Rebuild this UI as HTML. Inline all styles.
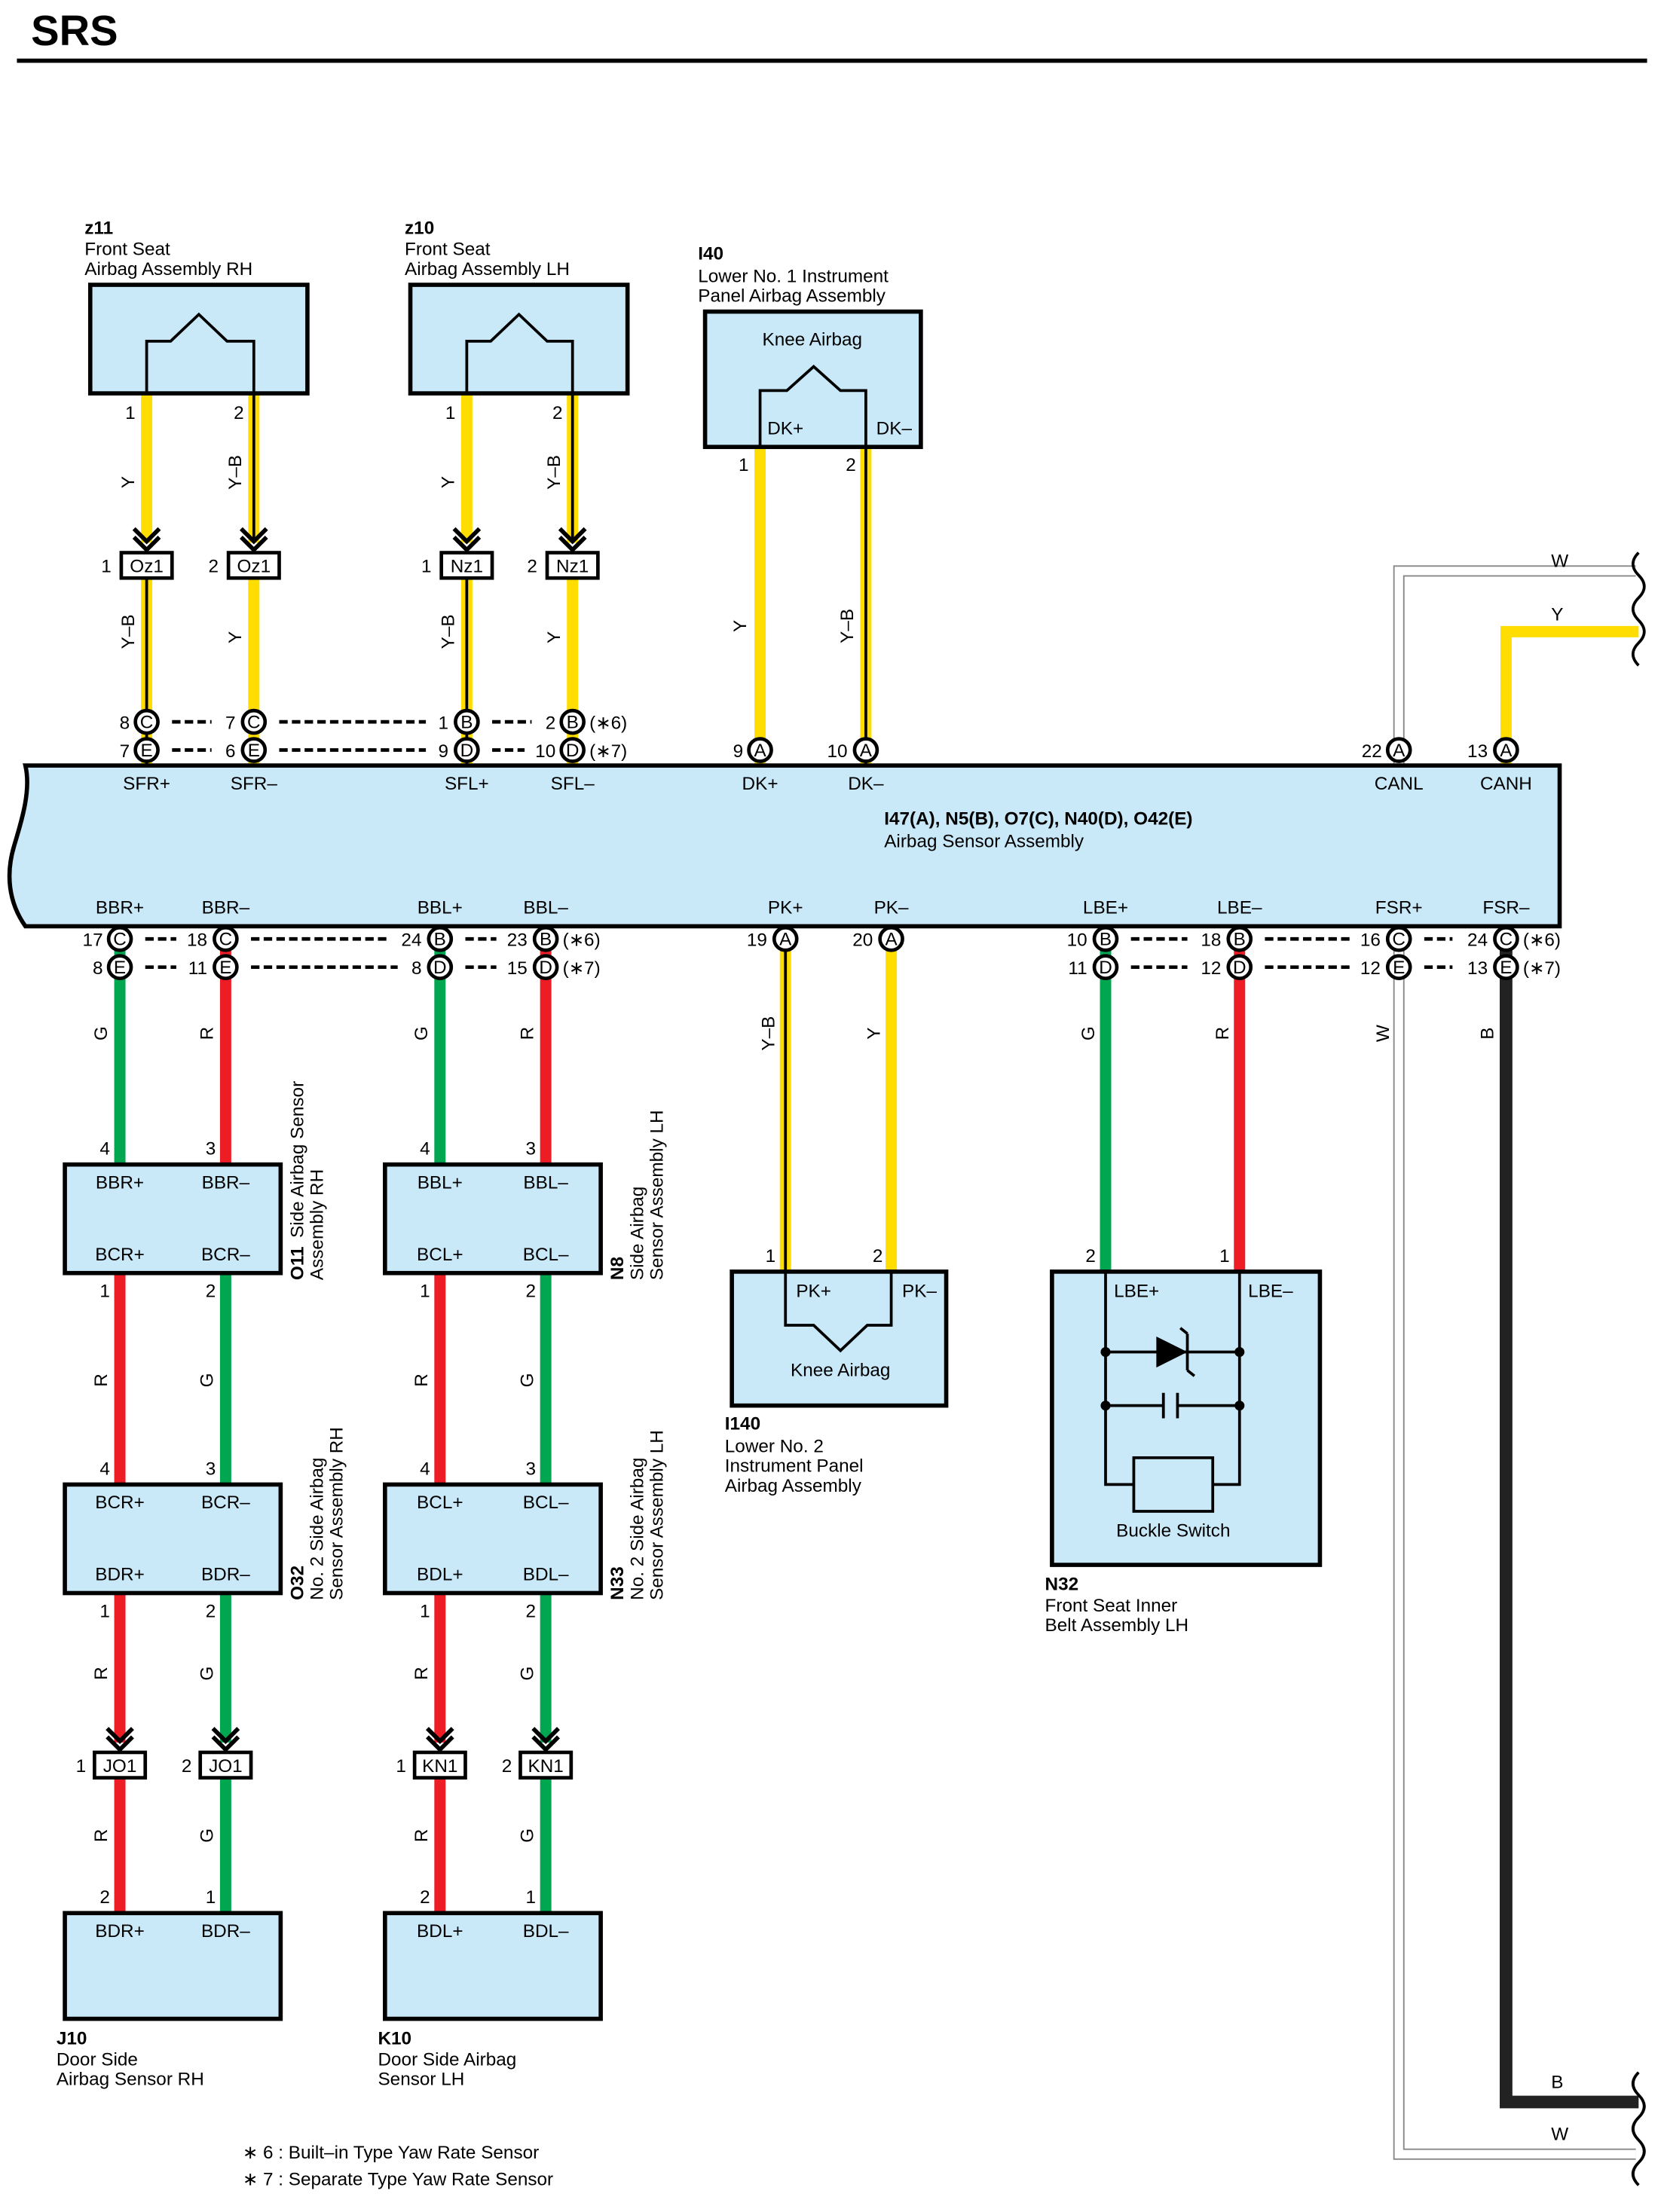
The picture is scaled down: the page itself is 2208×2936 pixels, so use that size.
<!DOCTYPE html>
<html><head><meta charset="utf-8"><style>
html,body{margin:0;padding:0;background:#fff}
svg{display:block}
text{font-family:"Liberation Sans",sans-serif;font-size:13px;fill:#000}
.b{font-weight:bold}
.m{text-anchor:middle}
.e{text-anchor:end}
</style></head><body>
<svg width="2208" height="2936" viewBox="0 0 1180 1569" xmlns="http://www.w3.org/2000/svg">
<defs>
<path id="chev" d="M-9,-13 L0,-4 L9,-13 M-9,-7 L0,2 L9,-7" stroke="#000" stroke-width="3" fill="none"/>
</defs>
<text x="22" y="32" class="b" style="font-size:30px">SRS</text>
<line x1="12" y1="43" x2="1168" y2="43" stroke="#000" stroke-width="3"/>

<!-- ===== top wires ===== -->
<g stroke-linecap="butt">
<!-- z11 -->
<line x1="104" y1="279" x2="104" y2="385" stroke="#ffdd00" stroke-width="8"/>
<line x1="180" y1="279" x2="180" y2="385" stroke="#ffdd00" stroke-width="8"/><line x1="180" y1="279" x2="180" y2="385" stroke="#000" stroke-width="2"/>
<line x1="104" y1="410" x2="104" y2="543" stroke="#ffdd00" stroke-width="8"/><line x1="104" y1="410" x2="104" y2="543" stroke="#000" stroke-width="2"/>
<line x1="180" y1="410" x2="180" y2="543" stroke="#ffdd00" stroke-width="8"/>
<!-- z10 -->
<line x1="331" y1="279" x2="331" y2="385" stroke="#ffdd00" stroke-width="8"/>
<line x1="406" y1="279" x2="406" y2="385" stroke="#ffdd00" stroke-width="8"/><line x1="406" y1="279" x2="406" y2="385" stroke="#000" stroke-width="2"/>
<line x1="331" y1="410" x2="331" y2="543" stroke="#ffdd00" stroke-width="8"/><line x1="331" y1="410" x2="331" y2="543" stroke="#000" stroke-width="2"/>
<line x1="406" y1="410" x2="406" y2="543" stroke="#ffdd00" stroke-width="8"/>
<!-- I40 -->
<line x1="539" y1="317" x2="539" y2="543" stroke="#ffdd00" stroke-width="8"/>
<line x1="614" y1="317" x2="614" y2="543" stroke="#ffdd00" stroke-width="8"/><line x1="614" y1="317" x2="614" y2="543" stroke="#000" stroke-width="2"/>
<!-- right W and Y -->
<path d="M992,543 L992,405 L1160,405" stroke="#888" stroke-width="8" fill="none"/>
<path d="M992,543 L992,405 L1160,405" stroke="#fff" stroke-width="6" fill="none"/>
<path d="M1068,543 L1068,448 L1162,448" stroke="#ffdd00" stroke-width="8" fill="none"/>
<!-- bottom right W and B -->
<path d="M992,657 L992,1528 L1160,1528" stroke="#888" stroke-width="8" fill="none"/>
<path d="M992,657 L992,1528 L1160,1528" stroke="#fff" stroke-width="6" fill="none"/>
<path d="M1068,657 L1068,1491 L1162,1491" stroke="#222" stroke-width="9" fill="none"/>
<!-- bottom wires -->
<line x1="85" y1="657" x2="85" y2="826" stroke="#00a650" stroke-width="8"/>
<line x1="160" y1="657" x2="160" y2="826" stroke="#ee1c25" stroke-width="8"/>
<line x1="312" y1="657" x2="312" y2="826" stroke="#00a650" stroke-width="8"/>
<line x1="387" y1="657" x2="387" y2="826" stroke="#ee1c25" stroke-width="8"/>
<line x1="557" y1="657" x2="557" y2="902" stroke="#ffdd00" stroke-width="8"/><line x1="557" y1="657" x2="557" y2="902" stroke="#000" stroke-width="2"/>
<line x1="632" y1="657" x2="632" y2="902" stroke="#ffdd00" stroke-width="8"/>
<line x1="784" y1="657" x2="784" y2="902" stroke="#00a650" stroke-width="8"/>
<line x1="879" y1="657" x2="879" y2="902" stroke="#ee1c25" stroke-width="8"/>
<line x1="85" y1="903" x2="85" y2="1053" stroke="#ee1c25" stroke-width="8"/>
<line x1="160" y1="903" x2="160" y2="1053" stroke="#00a650" stroke-width="8"/>
<line x1="312" y1="903" x2="312" y2="1053" stroke="#ee1c25" stroke-width="8"/>
<line x1="387" y1="903" x2="387" y2="1053" stroke="#00a650" stroke-width="8"/>
<line x1="85" y1="1130" x2="85" y2="1236" stroke="#ee1c25" stroke-width="8"/>
<line x1="160" y1="1130" x2="160" y2="1236" stroke="#00a650" stroke-width="8"/>
<line x1="312" y1="1130" x2="312" y2="1236" stroke="#ee1c25" stroke-width="8"/>
<line x1="387" y1="1130" x2="387" y2="1236" stroke="#00a650" stroke-width="8"/>
<line x1="85" y1="1262" x2="85" y2="1357" stroke="#ee1c25" stroke-width="8"/>
<line x1="160" y1="1262" x2="160" y2="1357" stroke="#00a650" stroke-width="8"/>
<line x1="312" y1="1262" x2="312" y2="1357" stroke="#ee1c25" stroke-width="8"/>
<line x1="387" y1="1262" x2="387" y2="1357" stroke="#00a650" stroke-width="8"/>
</g>

<!-- break marks -->
<g stroke="#000" stroke-width="2" fill="none">
<path d="M1162,392 q-8,8 0,16 q8,8 0,16 q-8,8 0,16 q8,8 0,16 q-8,8 0,16 M1164,392 v0"/>
<path d="M1162,1470 q-8,8 0,16 q8,8 0,16 q-8,8 0,16 q8,8 0,16 q-8,8 0,16"/>
</g>
<text x="1100" y="402">W</text><text x="1100" y="440">Y</text>
<text x="1100" y="1481">B</text><text x="1100" y="1518">W</text>

<!-- chevrons -->
<use href="#chev" x="104" y="388"/><use href="#chev" x="180" y="388"/>
<use href="#chev" x="331" y="388"/><use href="#chev" x="406" y="388"/>
<use href="#chev" x="85" y="1239"/><use href="#chev" x="160" y="1239"/>
<use href="#chev" x="312" y="1239"/><use href="#chev" x="387" y="1239"/>

<!-- top boxes -->
<g fill="#c9e8f8" stroke="#000" stroke-width="3">
<rect x="64" y="202" width="154" height="77"/>
<rect x="291" y="202" width="154" height="77"/>
<rect x="500" y="221" width="153" height="96"/>
<rect x="519" y="902" width="152" height="95"/>
<rect x="746" y="902" width="190" height="208"/>
<rect x="46" y="826" width="153" height="77"/>
<rect x="273" y="826" width="153" height="77"/>
<rect x="46" y="1053" width="153" height="77"/>
<rect x="273" y="1053" width="153" height="77"/>
<rect x="46" y="1357" width="153" height="75"/>
<rect x="273" y="1357" width="153" height="75"/>
<path d="M18,543 L1106,543 L1106,657 L18,657 C6,640 4,620 10,600 C16,580 22,560 18,543 Z"/>
</g>
<g stroke="#000" stroke-width="2" fill="none">
<path d="M104,279 V242 H121 L141,223 L161,242 H180 V279"/>
<path d="M331,279 V242 H348 L368,223 L388,242 H406 V279"/>
<path d="M539,317 V277 H558 L577,260 L596,277 H614 V317"/>
<path d="M557,902 V940 H577 L596,958 L615,940 H632 V902"/>
<!-- N32 circuit -->
<path d="M784,902 V1053 H804 M879,902 V1053 H860"/>
<rect x="804" y="1034" width="56" height="38"/>
<path d="M784,959 H879 M784,997 H825 M835,997 H879 M825,988 V1006 M835,988 V1006"/>
</g>
<path d="M820,948 L842,959 L820,970 Z" fill="#000"/>
<path d="M842,946 V972 M842,946 l-5,-4 M842,972 l5,4" stroke="#000" stroke-width="2" fill="none"/>
<g fill="#000"><circle cx="784" cy="959" r="3.5"/><circle cx="879" cy="959" r="3.5"/><circle cx="784" cy="997" r="3.5"/><circle cx="879" cy="997" r="3.5"/></g>

<!-- small connectors -->
<g fill="#fff" stroke="#000" stroke-width="2.5">
<rect x="86" y="392" width="36" height="18"/><rect x="162" y="392" width="36" height="18"/>
<rect x="313" y="392" width="36" height="18"/><rect x="388" y="392" width="36" height="18"/>
<rect x="67" y="1243" width="36" height="18"/><rect x="142" y="1243" width="36" height="18"/>
<rect x="294" y="1243" width="36" height="18"/><rect x="369" y="1243" width="36" height="18"/>
</g>
<g class="m">
<text x="104" y="406" class="m">Oz1</text><text x="180" y="406" class="m">Oz1</text>
<text x="331" y="406" class="m">Nz1</text><text x="406" y="406" class="m">Nz1</text>
<text x="85" y="1257" class="m">JO1</text><text x="160" y="1257" class="m">JO1</text>
<text x="312" y="1257" class="m">KN1</text><text x="387" y="1257" class="m">KN1</text>
</g>
<text x="79" y="406" class="e">1</text><text x="155" y="406" class="e">2</text>
<text x="306" y="406" class="e">1</text><text x="381" y="406" class="e">2</text>
<text x="61" y="1257" class="e">1</text><text x="136" y="1257" class="e">2</text>
<text x="288" y="1257" class="e">1</text><text x="363" y="1257" class="e">2</text>

<!-- dashes -->
<g stroke="#000" stroke-width="2.5" stroke-dasharray="6,3">
<line x1="122" y1="512" x2="150" y2="512"/><line x1="122" y1="532" x2="150" y2="532"/>
<line x1="198" y1="512" x2="302" y2="512"/><line x1="198" y1="532" x2="302" y2="532"/>
<line x1="349" y1="512" x2="377" y2="512"/><line x1="349" y1="532" x2="372" y2="532"/>
<line x1="103" y1="666" x2="125" y2="666"/><line x1="103" y1="686" x2="125" y2="686"/>
<line x1="178" y1="666" x2="277" y2="666"/><line x1="178" y1="686" x2="282" y2="686"/>
<line x1="330" y1="666" x2="352" y2="666"/><line x1="330" y1="686" x2="352" y2="686"/>
<line x1="802" y1="666" x2="842" y2="666"/><line x1="802" y1="686" x2="842" y2="686"/>
<line x1="897" y1="666" x2="957" y2="666"/><line x1="897" y1="686" x2="957" y2="686"/>
<line x1="1010" y1="666" x2="1030" y2="666"/><line x1="1010" y1="686" x2="1030" y2="686"/>
</g>

<!-- circles -->
<g fill="#fff" stroke="#000" stroke-width="2.5">
<circle cx="104" cy="512" r="8"/><circle cx="104" cy="532" r="8"/>
<circle cx="180" cy="512" r="8"/><circle cx="180" cy="532" r="8"/>
<circle cx="331" cy="512" r="8"/><circle cx="331" cy="532" r="8"/>
<circle cx="406" cy="512" r="8"/><circle cx="406" cy="532" r="8"/>
<circle cx="539" cy="532" r="8"/><circle cx="614" cy="532" r="8"/>
<circle cx="992" cy="532" r="8"/><circle cx="1068" cy="532" r="8"/>
<circle cx="85" cy="666" r="8"/><circle cx="85" cy="686" r="8"/>
<circle cx="160" cy="666" r="8"/><circle cx="160" cy="686" r="8"/>
<circle cx="312" cy="666" r="8"/><circle cx="312" cy="686" r="8"/>
<circle cx="387" cy="666" r="8"/><circle cx="387" cy="686" r="8"/>
<circle cx="557" cy="666" r="8"/><circle cx="632" cy="666" r="8"/>
<circle cx="784" cy="666" r="8"/><circle cx="784" cy="686" r="8"/>
<circle cx="879" cy="666" r="8"/><circle cx="879" cy="686" r="8"/>
<circle cx="992" cy="666" r="8"/><circle cx="992" cy="686" r="8"/>
<circle cx="1068" cy="666" r="8"/><circle cx="1068" cy="686" r="8"/>
</g>
<g style="font-size:12px">
<text x="104" y="516.5" class="m">C</text><text x="104" y="536.5" class="m">E</text>
<text x="180" y="516.5" class="m">C</text><text x="180" y="536.5" class="m">E</text>
<text x="331" y="516.5" class="m">B</text><text x="331" y="536.5" class="m">D</text>
<text x="406" y="516.5" class="m">B</text><text x="406" y="536.5" class="m">D</text>
<text x="539" y="536.5" class="m">A</text><text x="614" y="536.5" class="m">A</text>
<text x="992" y="536.5" class="m">A</text><text x="1068" y="536.5" class="m">A</text>
<text x="85" y="670.5" class="m">C</text><text x="85" y="690.5" class="m">E</text>
<text x="160" y="670.5" class="m">C</text><text x="160" y="690.5" class="m">E</text>
<text x="312" y="670.5" class="m">B</text><text x="312" y="690.5" class="m">D</text>
<text x="387" y="670.5" class="m">B</text><text x="387" y="690.5" class="m">D</text>
<text x="557" y="670.5" class="m">A</text><text x="632" y="670.5" class="m">A</text>
<text x="784" y="670.5" class="m">B</text><text x="784" y="690.5" class="m">D</text>
<text x="879" y="670.5" class="m">B</text><text x="879" y="690.5" class="m">D</text>
<text x="992" y="670.5" class="m">C</text><text x="992" y="690.5" class="m">E</text>
<text x="1068" y="670.5" class="m">C</text><text x="1068" y="690.5" class="m">E</text>
</g>
<!-- pin numbers at circles -->
<g class="e">
<text x="92" y="517" class="e">8</text><text x="92" y="537" class="e">7</text>
<text x="167" y="517" class="e">7</text><text x="167" y="537" class="e">6</text>
<text x="318" y="517" class="e">1</text><text x="318" y="537" class="e">9</text>
<text x="394" y="517" class="e">2</text><text x="394" y="537" class="e">10</text>
<text x="527" y="537" class="e">9</text><text x="601" y="537" class="e">10</text>
<text x="980" y="537" class="e">22</text><text x="1055" y="537" class="e">13</text>
<text x="73" y="671" class="e">17</text><text x="73" y="691" class="e">8</text>
<text x="147" y="671" class="e">18</text><text x="147" y="691" class="e">11</text>
<text x="299" y="671" class="e">24</text><text x="299" y="691" class="e">8</text>
<text x="374" y="671" class="e">23</text><text x="374" y="691" class="e">15</text>
<text x="544" y="671" class="e">19</text><text x="619" y="671" class="e">20</text>
<text x="771" y="671" class="e">10</text><text x="771" y="691" class="e">11</text>
<text x="866" y="671" class="e">18</text><text x="866" y="691" class="e">12</text>
<text x="979" y="671" class="e">16</text><text x="979" y="691" class="e">12</text>
<text x="1055" y="671" class="e">24</text><text x="1055" y="691" class="e">13</text>
</g>
<text x="418" y="517">(∗6)</text><text x="418" y="537">(∗7)</text>
<text x="399" y="671">(∗6)</text><text x="399" y="691">(∗7)</text>
<text x="1080" y="671">(∗6)</text><text x="1080" y="691">(∗7)</text>

<!-- pin numbers at components -->
<text x="96" y="297" class="e">1</text><text x="173" y="297" class="e">2</text>
<text x="323" y="297" class="e">1</text><text x="399" y="297" class="e">2</text>
<text x="531" y="334" class="e">1</text><text x="607" y="334" class="e">2</text>
<text x="78" y="819" class="e">4</text><text x="153" y="819" class="e">3</text>
<text x="305" y="819" class="e">4</text><text x="380" y="819" class="e">3</text>
<text x="78" y="920" class="e">1</text><text x="153" y="920" class="e">2</text>
<text x="305" y="920" class="e">1</text><text x="380" y="920" class="e">2</text>
<text x="78" y="1046" class="e">4</text><text x="153" y="1046" class="e">3</text>
<text x="305" y="1046" class="e">4</text><text x="380" y="1046" class="e">3</text>
<text x="78" y="1147" class="e">1</text><text x="153" y="1147" class="e">2</text>
<text x="305" y="1147" class="e">1</text><text x="380" y="1147" class="e">2</text>
<text x="78" y="1350" class="e">2</text><text x="153" y="1350" class="e">1</text>
<text x="305" y="1350" class="e">2</text><text x="380" y="1350" class="e">1</text>
<text x="550" y="895" class="e">1</text><text x="626" y="895" class="e">2</text>
<text x="777" y="895" class="e">2</text><text x="872" y="895" class="e">1</text>

<!-- wire color labels (rotated) -->
<g>
<text transform="translate(95,342) rotate(-90)" class="m">Y</text>
<text transform="translate(171,335) rotate(-90)" class="m">Y–B</text>
<text transform="translate(322,342) rotate(-90)" class="m">Y</text>
<text transform="translate(397,335) rotate(-90)" class="m">Y–B</text>
<text transform="translate(95,448) rotate(-90)" class="m">Y–B</text>
<text transform="translate(171,452) rotate(-90)" class="m">Y</text>
<text transform="translate(322,448) rotate(-90)" class="m">Y–B</text>
<text transform="translate(397,452) rotate(-90)" class="m">Y</text>
<text transform="translate(529,444) rotate(-90)" class="m">Y</text>
<text transform="translate(605,444) rotate(-90)" class="m">Y–B</text>
<text transform="translate(76,733) rotate(-90)" class="m">G</text>
<text transform="translate(151,733) rotate(-90)" class="m">R</text>
<text transform="translate(303,733) rotate(-90)" class="m">G</text>
<text transform="translate(378,733) rotate(-90)" class="m">R</text>
<text transform="translate(549,733) rotate(-90)" class="m">Y–B</text>
<text transform="translate(624,733) rotate(-90)" class="m">Y</text>
<text transform="translate(776,733) rotate(-90)" class="m">G</text>
<text transform="translate(871,733) rotate(-90)" class="m">R</text>
<text transform="translate(985,733) rotate(-90)" class="m">W</text>
<text transform="translate(1059,733) rotate(-90)" class="m">B</text>
<text transform="translate(76,979) rotate(-90)" class="m">R</text>
<text transform="translate(151,979) rotate(-90)" class="m">G</text>
<text transform="translate(303,979) rotate(-90)" class="m">R</text>
<text transform="translate(378,979) rotate(-90)" class="m">G</text>
<text transform="translate(76,1187) rotate(-90)" class="m">R</text>
<text transform="translate(151,1187) rotate(-90)" class="m">G</text>
<text transform="translate(303,1187) rotate(-90)" class="m">R</text>
<text transform="translate(378,1187) rotate(-90)" class="m">G</text>
<text transform="translate(76,1302) rotate(-90)" class="m">R</text>
<text transform="translate(151,1302) rotate(-90)" class="m">G</text>
<text transform="translate(303,1302) rotate(-90)" class="m">R</text>
<text transform="translate(378,1302) rotate(-90)" class="m">G</text>
</g>

<!-- main box labels -->
<g class="m">
<text x="104" y="560" class="m">SFR+</text><text x="180" y="560" class="m">SFR–</text>
<text x="331" y="560" class="m">SFL+</text><text x="406" y="560" class="m">SFL–</text>
<text x="539" y="560" class="m">DK+</text><text x="614" y="560" class="m">DK–</text>
<text x="992" y="560" class="m">CANL</text><text x="1068" y="560" class="m">CANH</text>
<text x="85" y="648" class="m">BBR+</text><text x="160" y="648" class="m">BBR–</text>
<text x="312" y="648" class="m">BBL+</text><text x="387" y="648" class="m">BBL–</text>
<text x="557" y="648" class="m">PK+</text><text x="632" y="648" class="m">PK–</text>
<text x="784" y="648" class="m">LBE+</text><text x="879" y="648" class="m">LBE–</text>
<text x="992" y="648" class="m">FSR+</text><text x="1068" y="648" class="m">FSR–</text>
</g>
<text x="627" y="585" class="b">I47(A), N5(B), O7(C), N40(D), O42(E)</text>
<text x="627" y="601">Airbag Sensor Assembly</text>

<!-- component box labels -->
<text x="576" y="245" class="m">Knee Airbag</text>
<text x="557" y="308" class="m">DK+</text><text x="634" y="308" class="m">DK–</text>
<text x="577" y="920" class="m">PK+</text><text x="652" y="920" class="m">PK–</text>
<text x="596" y="976" class="m">Knee Airbag</text>
<text x="806" y="920" class="m">LBE+</text><text x="901" y="920" class="m">LBE–</text>
<text x="832" y="1090" class="m">Buckle Switch</text>
<text x="85" y="843" class="m">BBR+</text><text x="160" y="843" class="m">BBR–</text>
<text x="85" y="894" class="m">BCR+</text><text x="160" y="894" class="m">BCR–</text>
<text x="312" y="843" class="m">BBL+</text><text x="387" y="843" class="m">BBL–</text>
<text x="312" y="894" class="m">BCL+</text><text x="387" y="894" class="m">BCL–</text>
<text x="85" y="1070" class="m">BCR+</text><text x="160" y="1070" class="m">BCR–</text>
<text x="85" y="1121" class="m">BDR+</text><text x="160" y="1121" class="m">BDR–</text>
<text x="312" y="1070" class="m">BCL+</text><text x="387" y="1070" class="m">BCL–</text>
<text x="312" y="1121" class="m">BDL+</text><text x="387" y="1121" class="m">BDL–</text>
<text x="85" y="1374" class="m">BDR+</text><text x="160" y="1374" class="m">BDR–</text>
<text x="312" y="1374" class="m">BDL+</text><text x="387" y="1374" class="m">BDL–</text>

<!-- component names -->
<text x="60" y="166" class="b">z11</text><text x="60" y="181">Front Seat</text><text x="60" y="195">Airbag Assembly RH</text>
<text x="287" y="166" class="b">z10</text><text x="287" y="181">Front Seat</text><text x="287" y="195">Airbag Assembly LH</text>
<text x="495" y="184" class="b">I40</text><text x="495" y="200">Lower No.  1 Instrument</text><text x="495" y="214">Panel Airbag Assembly</text>
<text x="514" y="1014" class="b">I140</text><text x="514" y="1030">Lower No.  2</text><text x="514" y="1044">Instrument Panel</text><text x="514" y="1058">Airbag Assembly</text>
<text x="741" y="1128" class="b">N32</text><text x="741" y="1143">Front Seat Inner</text><text x="741" y="1157">Belt Assembly LH</text>
<text x="40" y="1450" class="b">J10</text><text x="40" y="1465">Door Side</text><text x="40" y="1479">Airbag Sensor RH</text>
<text x="268" y="1450" class="b">K10</text><text x="268" y="1465">Door Side Airbag</text><text x="268" y="1479">Sensor LH</text>

<!-- rotated component names -->
<g transform="translate(215,908) rotate(-90)"><text x="0" y="0" class="b">O11</text><text x="30" y="0">Side Airbag Sensor</text><text x="0" y="14">Assembly RH</text><text x="0" y="28"></text></g>
<g transform="translate(442,908) rotate(-90)"><text x="0" y="0" class="b">N8</text><text x="0" y="14">Side Airbag</text><text x="0" y="28">Sensor Assembly LH</text></g>
<g transform="translate(215,1135) rotate(-90)"><text x="0" y="0" class="b">O32</text><text x="0" y="14">No.  2 Side Airbag</text><text x="0" y="28">Sensor Assembly RH</text></g>
<g transform="translate(442,1135) rotate(-90)"><text x="0" y="0" class="b">N33</text><text x="0" y="14">No.  2 Side Airbag</text><text x="0" y="28">Sensor Assembly LH</text></g>

<text x="172" y="1531">∗ 6 : Built–in Type Yaw Rate Sensor</text>
<text x="172" y="1550">∗ 7 : Separate Type Yaw Rate Sensor</text>
</svg>
</body></html>
